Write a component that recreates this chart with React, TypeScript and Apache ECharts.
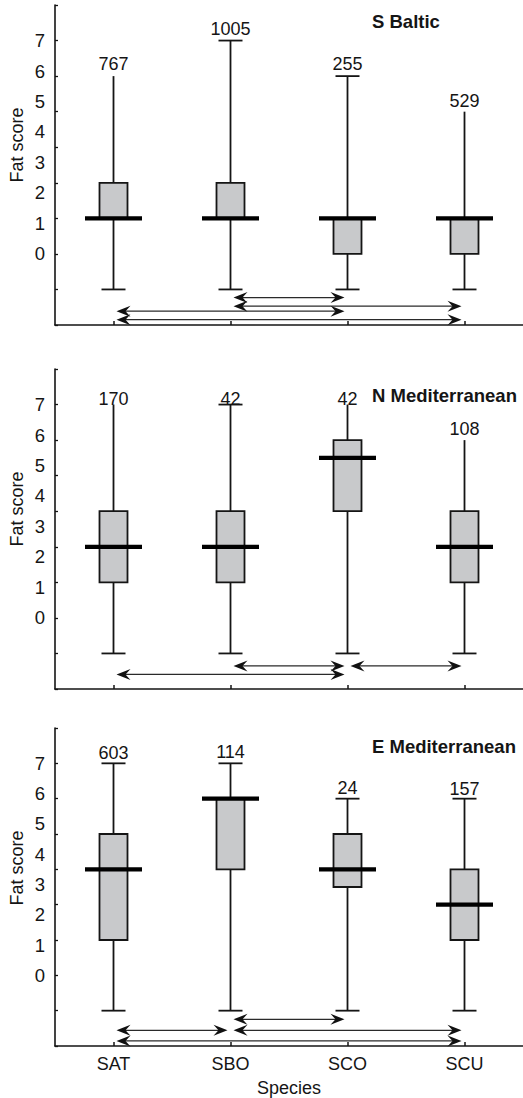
import React, { useEffect, useRef } from "react";
import * as echarts from "echarts";

const categories = ["SAT", "SBO", "SCO", "SCU"];
const panelTitles = ["S Baltic", "N Mediterranean", "E Mediterranean"];
const yTickLabels = [0, 1, 2, 3, 4, 5, 6, 7];

// [min, q1, median, q3, max] per species
const balticStats = [
  [0, 2, 2, 3, 6],
  [0, 2, 2, 3, 7],
  [0, 1, 2, 2, 6],
  [0, 1, 2, 2, 5],
];
const balticN = [767, 1005, 255, 529];
const balticTopCap = [false, true, true, false];
// [fromIndex, toIndex, yLevel]
const balticArrows = [
  [1, 2, -0.23],
  [1, 3, -0.47],
  [0, 2, -0.61],
  [0, 3, -0.85],
];

const nMedStats = [
  [0, 2, 3, 4, 7],
  [0, 2, 3, 4, 7],
  [0, 4, 5.5, 6, 7],
  [0, 2, 3, 4, 6],
];
const nMedN = [170, 42, 42, 108];
const nMedTopCap = [false, true, false, false];
const nMedArrows = [
  [1, 2, -0.35],
  [2, 3, -0.35],
  [0, 2, -0.59],
];

const eMedStats = [
  [0, 2, 4, 5, 7],
  [0, 4, 6, 6, 7],
  [0, 3.5, 4, 5, 6],
  [0, 2, 3, 4, 6],
];
const eMedN = [603, 114, 24, 157];
const eMedTopCap = [true, true, true, true];
const eMedArrows = [
  [1, 2, -0.245],
  [0, 1, -0.555],
  [1, 3, -0.555],
  [0, 3, -0.855],
];

const panels = [
  { stats: balticStats, n: balticN, cap: balticTopCap, arrows: balticArrows },
  { stats: nMedStats, n: nMedN, cap: nMedTopCap, arrows: nMedArrows },
  { stats: eMedStats, n: eMedN, cap: eMedTopCap, arrows: eMedArrows },
];

// style: gap between whisker top and count label, per panel/species
const labelGaps = [
  [12, 12, 12, 11],
  [6, 6, 6, 11],
  [10, 11, 11, 10],
];

const FONT = "'Liberation Sans', Arial, Helvetica, sans-serif";
const INK = "#151515";
const GRID_TOPS = [5, 369, 728];
const GRID_H = 320;

export default function App() {
  const ref = useRef<HTMLDivElement>(null);

  useEffect(() => {
    if (!ref.current) return;
    const chart = echarts.init(ref.current, undefined, { renderer: "svg" });

    const grids: any[] = [];
    const xAxes: any[] = [];
    const yAxes: any[] = [];
    const series: any[] = [];
    const titles: any[] = [];
    const graphics: any[] = [];

    panels.forEach((p, i) => {
      grids.push({ left: 55, right: -4, top: GRID_TOPS[i], height: GRID_H });
      titles.push({
        text: panelTitles[i],
        left: 372,
        top: GRID_TOPS[i] + (i === 0 ? 7 : i === 1 ? 16.5 : 8.5),
        padding: 0,
        textStyle: { fontSize: 18.5, fontWeight: "bold", fontFamily: FONT, color: INK },
      });
      graphics.push({
        type: "text",
        x: 17,
        y: GRID_TOPS[i] + 140,
        rotation: Math.PI / 2,
        style: {
          text: "Fat score",
          fontSize: 18,
          fontFamily: FONT,
          fill: INK,
          align: "center",
          verticalAlign: "middle",
        },
      });
      xAxes.push({
        type: "category",
        gridIndex: i,
        data: categories,
        boundaryGap: true,
        axisLine: { onZero: false, lineStyle: { color: INK, width: 1.6 } },
        axisTick: {
          show: true,
          inside: true,
          length: 4,
          alignWithLabel: true,
          lineStyle: { color: INK, width: 1.5 },
        },
        axisLabel: {
          show: i === 2,
          fontSize: 18,
          fontFamily: FONT,
          color: INK,
          margin: 9,
        },
        name: i === 2 ? "Species" : "",
        nameLocation: "middle",
        nameGap: 33,
        nameTextStyle: { fontSize: 18, fontFamily: FONT, color: INK },
        splitLine: { show: false },
      });
      // data axis (ticks)
      yAxes.push({
        type: "value",
        gridIndex: i,
        position: "left",
        min: -1,
        max: 8,
        interval: 1,
        axisLine: { show: true, lineStyle: { color: INK, width: 1.6 } },
        axisTick: { show: true, inside: true, length: 3, lineStyle: { color: INK, width: 1.3 } },
        axisLabel: { show: false },
        splitLine: { show: false },
      });
      // label axis (tick labels as drawn in the reference)
      yAxes.push({
        type: "value",
        gridIndex: i,
        position: "left",
        offset: 0,
        min: -7 / 3,
        max: 49 / 6,
        axisLine: { show: false },
        axisTick: { show: false },
        splitLine: { show: false },
        axisLabel: {
          show: true,
          customValues: yTickLabels,
          fontSize: 18.5,
          fontFamily: FONT,
          color: INK,
          margin: 10,
        },
      });

      const boxData = p.stats.map((s, k) => [k, ...s]);
      series.push({
        type: "custom",
        xAxisIndex: i,
        yAxisIndex: i * 2,
        clip: false,
        encode: { x: 0, y: [1, 2, 3, 4, 5] },
        data: boxData,
        renderItem: (params: any, api: any) => {
          const k = api.value(0);
          const pt = (v: number) => api.coord([k, v]);
          const [cx, yMin] = pt(api.value(1));
          const yQ1 = pt(api.value(2))[1];
          const yMed = pt(api.value(3))[1];
          const yQ3 = pt(api.value(4))[1];
          const yMax = pt(api.value(5))[1];
          const idx = params.dataIndex;
          const lineStyle = { stroke: INK, lineWidth: 1.8 };
          const children: any[] = [
            { type: "line", shape: { x1: cx, y1: yMin, x2: cx, y2: yMax }, style: lineStyle },
            { type: "line", shape: { x1: cx - 12, y1: yMin, x2: cx + 12, y2: yMin }, style: lineStyle },
          ];
          if (p.cap[idx]) {
            children.push({
              type: "line",
              shape: { x1: cx - 12, y1: yMax, x2: cx + 12, y2: yMax },
              style: lineStyle,
            });
          }
          children.push({
            type: "rect",
            shape: { x: cx - 14, y: yQ3, width: 28, height: yQ1 - yQ3 },
            style: { fill: "#c8c9cb", stroke: INK, lineWidth: 1.8 },
          });
          children.push({
            type: "line",
            shape: { x1: cx - 28.5, y1: yMed, x2: cx + 28.5, y2: yMed },
            style: { stroke: "#000", lineWidth: 4.2 },
          });
          children.push({
            type: "text",
            x: cx,
            y: yMax - labelGaps[i][idx],
            style: {
              text: String(p.n[idx]),
              fontSize: 18,
              fontFamily: FONT,
              fill: INK,
              align: "center",
              verticalAlign: "middle",
            },
          });
          return { type: "group", children };
        },
      });

      series.push({
        type: "custom",
        xAxisIndex: i,
        yAxisIndex: i * 2,
        clip: false,
        encode: { x: [0, 1], y: 2 },
        data: p.arrows,
        renderItem: (params: any, api: any) => {
          const a = api.coord([api.value(0), api.value(2)]);
          const b = api.coord([api.value(1), api.value(2)]);
          const y = a[1];
          const x1 = a[0] + 3;
          const x2 = b[0] - 3;
          const stroke = "#2a2a2a";
          return {
            type: "group",
            children: [
              {
                type: "line",
                shape: { x1: x1 + 8, y1: y, x2: x2 - 8, y2: y },
                style: { stroke, lineWidth: 1.3 },
              },
              {
                type: "polygon",
                shape: { points: [[x1, y], [x1 + 14, y - 5.5], [x1 + 9, y], [x1 + 14, y + 5.5]] },
                style: { fill: "#111" },
              },
              {
                type: "polygon",
                shape: { points: [[x2, y], [x2 - 14, y - 5.5], [x2 - 9, y], [x2 - 14, y + 5.5]] },
                style: { fill: "#111" },
              },
            ],
          };
        },
      });
    });

    chart.setOption({
      animation: false,
      backgroundColor: "#fff",
      title: titles,
      grid: grids,
      xAxis: xAxes,
      yAxis: yAxes,
      series,
      graphic: graphics,
    });

    return () => chart.dispose();
  }, []);

  return (
    <div
      ref={ref}
      style={{ position: "absolute", left: 0, top: 0, width: 523, height: 1098 }}
    />
  );
}
